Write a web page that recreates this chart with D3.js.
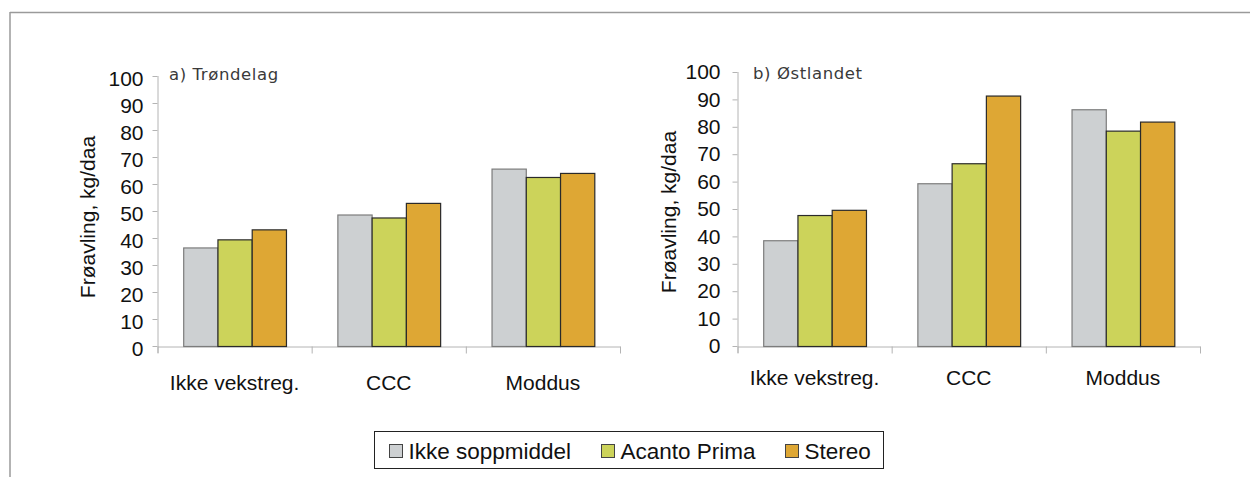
<!DOCTYPE html>
<html><head><meta charset="utf-8">
<script src="https://cdn.jsdelivr.net/npm/d3@7"></script>
<style>html,body{margin:0;padding:0;background:#fff;}svg{display:block;}</style>
</head><body>
<svg id="c" width="1250" height="477"></svg>
<script>
const categories = ["Ikke vekstreg.", "CCC", "Moddus"];
const series = ["Ikke soppmiddel", "Acanto Prima", "Stereo"];
const colors = ["#cdd0d2", "#ccd35a", "#dea734"];
const strokes = ["#7c7c7c", "#2a2a2a", "#2a2a2a"];
const valuesA = [
  [36.5, 39.5, 43.2],
  [48.7, 47.6, 53.0],
  [65.7, 62.6, 64.1]
];
const valuesB = [
  [38.6, 47.8, 49.7],
  [59.4, 66.7, 91.4],
  [86.4, 78.6, 81.9]
];
const yTicks = [0, 10, 20, 30, 40, 50, 60, 70, 80, 90, 100];
const titleA = "a) Trøndelag";
const titleB = "b) Østlandet";
const yTitle = "Frøavling, kg/daa";

const svg = d3.select("#c");
const FONT = "Liberation Sans, Arial, sans-serif";

// outer frame
svg.append("line").attr("x1", 10).attr("x2", 1250).attr("y1", 12.5).attr("y2", 12.5)
  .attr("stroke", "#9a9a9a").attr("stroke-width", 1.5);
svg.append("line").attr("x1", 10).attr("x2", 10).attr("y1", 12).attr("y2", 477)
  .attr("stroke", "#9a9a9a").attr("stroke-width", 1.5);

function panel(cfg) {
  const g = svg.append("g");
  const x0 = d3.scaleBand().domain(categories).range([cfg.x0, cfg.x1]).paddingInner(0).paddingOuter(0);
  const bw = x0.bandwidth();
  const x1 = d3.scaleBand().domain(series).range([bw * 0.1667, bw * 0.8333]).padding(0);
  const y = d3.scaleLinear().domain([0, 100]).range([cfg.yZero, cfg.yTop]);

  // y axis
  const ya = g.append("g").attr("transform", `translate(${cfg.x0},0)`)
    .call(d3.axisLeft(y).tickValues(yTicks).tickSize(5).tickSizeOuter(0).tickPadding(cfg.tickPad));
  ya.select(".domain").remove();
  ya.selectAll(".tick line").attr("stroke", "#b4b4b4");
  ya.selectAll(".tick text").attr("font-family", FONT).attr("font-size", cfg.fs).attr("fill", "#111")
    .attr("dy", cfg.labelDy);
  g.append("line").attr("x1", cfg.x0 + 0.5).attr("x2", cfg.x0 + 0.5)
    .attr("y1", y(100)).attr("y2", cfg.yZero + 7).attr("stroke", "#b4b4b4");

  // x axis
  const xl = d3.scaleLinear().domain([0, categories.length]).range([cfg.x0, cfg.x1]);
  const xa = g.append("g").attr("transform", `translate(0,${cfg.yZero + 0.5})`)
    .call(d3.axisBottom(xl).tickValues(d3.range(categories.length + 1)).tickSize(7).tickSizeOuter(0).tickFormat(""));
  xa.select(".domain").attr("stroke", "#b4b4b4");
  xa.selectAll(".tick line").attr("stroke", "#b4b4b4");

  // bars
  const grp = g.selectAll(".grp").data(cfg.values).join("g")
    .attr("transform", (d, i) => `translate(${x0(categories[i])},0)`);
  grp.selectAll("rect").data(d => d.map((v, j) => ({ v, j }))).join("rect")
    .attr("x", d => x1(series[d.j]) + 0.5)
    .attr("width", x1.bandwidth())
    .attr("y", d => y(d.v) + 0.5)
    .attr("height", d => cfg.yZero - y(d.v))
    .attr("fill", d => colors[d.j])
    .attr("stroke", d => strokes[d.j])
    .attr("stroke-width", 1.2);

  // category labels
  g.selectAll(".cat").data(categories).join("text")
    .attr("x", d => x0(d) + bw / 2)
    .attr("y", cfg.catY)
    .attr("text-anchor", "middle")
    .attr("dominant-baseline", "central")
    .attr("font-family", FONT).attr("font-size", cfg.fs).attr("fill", "#111")
    .text(d => d);

  // y title
  g.append("text")
    .attr("transform", `translate(${cfg.ytX},${cfg.ytY}) rotate(-90)`)
    .attr("text-anchor", "middle").attr("dominant-baseline", "central")
    .attr("font-family", FONT).attr("font-size", cfg.fs).attr("fill", "#111")
    .text(yTitle);

  // panel title
  g.append("text").attr("x", cfg.tX).attr("y", cfg.tY)
    .attr("dominant-baseline", "central")
    .attr("font-family", "DejaVu Sans, sans-serif").attr("font-size", 16.5)
    .attr("letter-spacing", 0.6).attr("fill", "#3a3a3a")
    .text(cfg.title);
}

panel({ x0: 157.5, x1: 620, yZero: 346, yTop: 76, values: valuesA, tickPad: 9, labelDy: "0.45em",
  fs: 21, catY: 382, ytX: 87, ytY: 217, tX: 169, tY: 74, title: titleA });
panel({ x0: 737.5, x1: 1200, yZero: 346, yTop: 72, values: valuesB, tickPad: 12, labelDy: "0.32em",
  fs: 21, catY: 377, ytX: 668, ytY: 212, tX: 753, tY: 73, title: titleB });

// legend
const lg = svg.append("g");
lg.append("rect").attr("x", 374.5).attr("y", 431.5).attr("width", 509).attr("height", 37)
  .attr("fill", "#fff").attr("stroke", "#222").attr("stroke-width", 1);
const legX = [389.5, 601.5, 785.5];
series.forEach((s, i) => {
  lg.append("rect").attr("x", legX[i]).attr("y", 444.5).attr("width", 13).attr("height", 13)
    .attr("fill", colors[i]).attr("stroke", "#444").attr("stroke-width", 1);
  lg.append("text").attr("x", legX[i] + 19).attr("y", 451)
    .attr("dominant-baseline", "central")
    .attr("font-family", FONT).attr("font-size", 22.5).attr("fill", "#111")
    .text(s);
});
</script>
</body></html>
